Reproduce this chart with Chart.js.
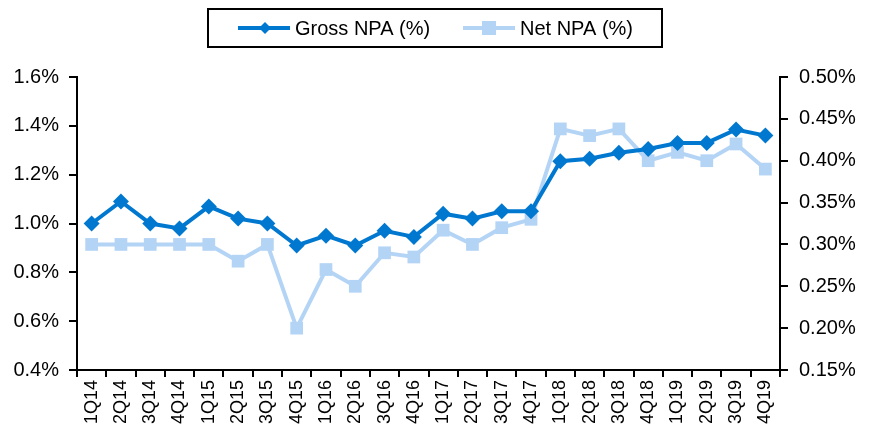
<!DOCTYPE html>
<html>
<head>
<meta charset="utf-8">
<script src="https://cdn.jsdelivr.net/npm/chart.js@4"></script>
<style>
  body { margin: 0; background: #fff; }
  #wrap { width: 875px; height: 436px; }
</style>
</head>
<body>
<div id="wrap"><canvas id="myChart" width="875" height="436"></canvas></div>
<script>
// quarters on the x axis
const quarters = ['1Q14','2Q14','3Q14','4Q14','1Q15','2Q15','3Q15','4Q15','1Q16','2Q16','3Q16','4Q16',
                  '1Q17','2Q17','3Q17','4Q17','1Q18','2Q18','3Q18','4Q18','1Q19','2Q19','3Q19','4Q19'];
// left axis (%)
const grossNPA = [1.00, 1.09, 1.00, 0.98, 1.07, 1.02, 1.00, 0.91, 0.95, 0.91, 0.97, 0.945,
                  1.04, 1.02, 1.05, 1.05, 1.255, 1.265, 1.29, 1.305, 1.33, 1.33, 1.385, 1.36];
// right axis (%)
const netNPA = [0.30, 0.30, 0.30, 0.30, 0.30, 0.28, 0.30, 0.20, 0.27, 0.25, 0.29, 0.285,
                0.317, 0.30, 0.32, 0.33, 0.438, 0.43, 0.438, 0.40, 0.41, 0.40, 0.42, 0.39];
const leftTicks = { min: 0.4, max: 1.6, step: 0.2 };
const rightTicks = { min: 0.15, max: 0.50, step: 0.05 };

const grossColor = '#0078d0';
const netColor = '#b4d4f6';
const font = '"Liberation Sans", Arial, sans-serif';

// legend with a black frame, drawn by hand
const boxLegend = {
    id: 'boxLegend',
    afterDraw(chart) {
        const ctx = chart.ctx;
        ctx.save();
        ctx.strokeStyle = '#000';
        ctx.lineWidth = 2;
        ctx.strokeRect(208, 9, 454, 38);
        ctx.font = '20px ' + font;
        ctx.textBaseline = 'middle';
        ctx.fillStyle = '#000';
        // gross
        ctx.strokeStyle = grossColor;
        ctx.lineWidth = 4;
        ctx.beginPath(); ctx.moveTo(238, 28); ctx.lineTo(290, 28); ctx.stroke();
        ctx.fillStyle = grossColor;
        ctx.beginPath(); ctx.moveTo(265, 22); ctx.lineTo(271, 28); ctx.lineTo(265, 34); ctx.lineTo(259, 28); ctx.closePath(); ctx.fill();
        ctx.fillStyle = '#000';
        ctx.fillText('Gross NPA (%)', 295, 29);
        // net
        ctx.strokeStyle = netColor;
        ctx.beginPath(); ctx.moveTo(463, 28); ctx.lineTo(515, 28); ctx.stroke();
        ctx.fillStyle = netColor;
        ctx.fillRect(482, 21, 14, 14);
        ctx.fillStyle = '#000';
        ctx.fillText('Net NPA (%)', 520, 29);
        ctx.restore();
    }
};

const chrt = document.getElementById('myChart');
new Chart(chrt, {
    type: 'line',
    data: {
        labels: quarters,
        datasets: [{
            label: 'Gross NPA (%)',
            data: grossNPA,
            yAxisID: 'y',
            borderColor: grossColor,
            backgroundColor: grossColor,
            borderWidth: 4,
            pointStyle: 'rectRot',
            pointRadius: 8,
            pointBorderWidth: 0,
            order: 1
        }, {
            label: 'Net NPA (%)',
            data: netNPA,
            yAxisID: 'y1',
            borderColor: netColor,
            backgroundColor: netColor,
            borderWidth: 4,
            pointStyle: 'rect',
            pointRadius: 9,
            pointBorderWidth: 0,
            order: 2
        }]
    },
    options: {
        responsive: false,
        animation: false,
        layout: { padding: { top: 77, left: 0, right: 0, bottom: 0 } },
        plugins: {
            legend: { display: false },
            tooltip: { enabled: false }
        },
        scales: {
            x: {
                offset: true,
                grid: { offset: true, drawOnChartArea: false, drawTicks: true, tickLength: 7, color: '#000', lineWidth: 2 },
                border: { display: true, color: '#000', width: 2 },
                ticks: { color: '#000', font: { family: font, size: 18 }, maxRotation: 90, minRotation: 90, autoSkip: false, padding: 3 },
                afterFit(scale) { scale.height = 66; }
            },
            y: {
                position: 'left',
                min: leftTicks.min,
                max: leftTicks.max,
                grid: { drawOnChartArea: false, drawTicks: true, tickLength: 8, color: '#000', lineWidth: 2 },
                border: { display: true, color: '#000', width: 2 },
                ticks: {
                    stepSize: leftTicks.step,
                    color: '#000',
                    font: { family: font, size: 20 },
                    padding: 10,
                    callback: (v) => v.toFixed(1) + '%'
                },
                afterFit(scale) { scale.width = 77; }
            },
            y1: {
                position: 'right',
                min: rightTicks.min,
                max: rightTicks.max,
                grid: { drawOnChartArea: false, drawTicks: true, tickLength: 8, color: '#000', lineWidth: 2 },
                border: { display: true, color: '#000', width: 2 },
                ticks: {
                    stepSize: rightTicks.step,
                    color: '#000',
                    font: { family: font, size: 20 },
                    padding: 11,
                    callback: (v) => v.toFixed(2) + '%'
                },
                afterFit(scale) { scale.width = 95; }
            }
        }
    },
    plugins: [boxLegend]
});
</script>
</body>
</html>
